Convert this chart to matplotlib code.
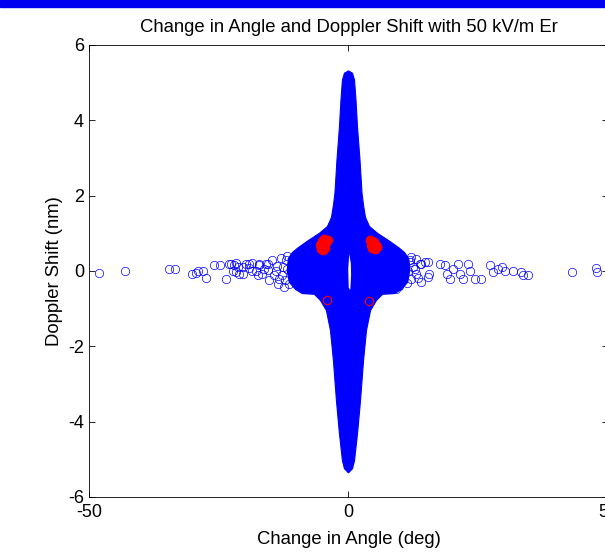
import matplotlib
matplotlib.use("Agg")
import matplotlib.pyplot as plt
from matplotlib.patches import Rectangle

plt.rcParams['font.family'] = ['Liberation Sans', 'DejaVu Sans']
plt.rcParams['axes.unicode_minus'] = False

# Outline of the solid part of the cloud, right half, top to bottom (deg, nm)
core_angle = [0.0, 0.77, 1.16, 1.45, 1.74, 2.22, 2.61, 2.90, 3.28, 4.05,
              5.60, 7.92, 9.85, 10.8, 11.6, 11.8, 11.4, 10.2, 8.9, 6.56, 5.41,
              4.25, 3.47, 2.90, 2.32, 1.74, 1.16, 0.77, 0.0]
core_doppler = [5.31, 5.25, 5.07, 4.53, 3.82, 2.94, 2.06, 1.74, 1.42, 1.18,
                1.00, 0.79, 0.60, 0.49, 0.33, 0.0, -0.30, -0.49, -0.60, -0.62, -0.78,
                -1.05, -1.58, -2.38, -3.44, -4.32, -5.04, -5.25, -5.36]

# Empty slit in the middle of the cloud
gap_angle = [0.15, 0.45, 0.50, 0.35, 0.05, -0.05]
gap_doppler = [0.45, 0.20, -0.10, -0.50, -0.45, 0.05]

# Scattered points along the angle axis
tail_angle = [-48.1, -43.1, -34.6, -33.4, -30.1, -29.3, -28.9, -28.0, -27.5,
              -25.9, -24.8, -23.6, -23.0, -22.0, -21.7, -21.2, -20.4, -19.7,
              -19.1, -18.5, -17.8, -17.2, -16.7, -15.9, -15.6, -22.6, -21.7,
              -22.3, -21.0, -20.4, -19.1, -18.5, -17.5, -17.2, -16.2, -15.6,
              -15.3, -14.7, -14.0, -13.3, -12.7, -12.0, -13.6, -11.4, -12.4,
              -12.9, -13.8, -12.2, -11.8, -14.4, -13.0, -11.9,
              9.8, 10.8, 11.8, 12.4, 11.5, 10.5, 12.1, 13.1, 13.7, 14.7,
              14.0, 15.3, 9.8, 9.2, 12.8, 11.2, 13.4, 12.0,
              11.8, 13.1, 14.0, 15.3, 15.6, 17.6, 18.5, 18.9, 19.5, 20.1,
              21.1, 21.4, 22.1, 23.0, 23.4, 24.3, 25.6, 27.2, 27.9, 28.8,
              29.5, 30.1, 31.7, 33.3, 33.7, 34.6, 43.0, 47.6, 47.9]
tail_doppler = [-0.05, -0.01, 0.06, 0.06, -0.09, -0.05, 0.01, 0.00, -0.19,
                0.15, 0.15, -0.21, 0.19, 0.15, -0.03, 0.10, -0.07, 0.19,
                0.09, 0.21, 0.01, 0.15, -0.07, 0.19, 0.03, 0.19, 0.21,
                0.01, -0.07, 0.10, 0.19, 0.01, -0.12, 0.19, 0.06, 0.19,
                -0.25, 0.28, 0.01, -0.21, 0.10, 0.28, -0.34, -0.34, -0.43,
                -0.10, 0.12, -0.25, 0.40, -0.12, 0.34, 0.05,
                0.37, 0.19, 0.28, 0.10, 0.01, -0.16, -0.21, -0.07, 0.19, 0.23,
                -0.30, -0.16, -0.39, -0.47, 0.05, -0.32, -0.18, 0.38,
                0.23, 0.32, 0.19, 0.23, -0.07, 0.19, 0.15, -0.07, -0.21, 0.06,
                0.19, -0.07, -0.21, 0.19, 0.01, -0.21, -0.21, 0.15, -0.03, 0.06,
                0.10, 0.01, -0.01, -0.03, -0.12, -0.10, -0.03, 0.09, -0.03]

# Red points
red_cluster_angle = [-5.4, -5.1, -4.7, -4.3, -4.5, -4.9, -5.3, -4.1, -4.8, -5.0,
                     4.2, 4.6, 5.0, 5.4, 5.1, 4.5, 4.3, 4.8, 5.3, 4.9]
red_cluster_doppler = [0.70, 0.80, 0.84, 0.76, 0.62, 0.56, 0.58, 0.82, 0.70, 0.66,
                       0.82, 0.80, 0.74, 0.64, 0.58, 0.60, 0.70, 0.66, 0.70, 0.76]
red_ring_angle = [-4.2, 3.9, -4.0]
red_ring_doppler = [-0.78, -0.81, 0.83]

fig = plt.figure(figsize=(6.05, 5.54), dpi=100)
fig.patches.append(Rectangle((0, 1 - 7 / 554), 1, 7 / 554, transform=fig.transFigure,
                             color='#0000f0', zorder=0))
ax = fig.add_axes([0.147, 0.1029, 0.858, 0.816])

poly_x = core_angle + [-a for a in reversed(core_angle)]
poly_y = core_doppler + list(reversed(core_doppler))
ax.fill(poly_x, poly_y, color='b', lw=0.8)
ax.plot(tail_angle, tail_doppler, 'o', mfc='none', mec='b', ms=6, mew=0.5)
ax.fill(gap_angle, gap_doppler, color='white', lw=0)
ax.plot(red_cluster_angle, red_cluster_doppler, 'o', color='r', ms=6)
ax.plot(red_ring_angle, red_ring_doppler, 'o', mfc='none', mec='r', ms=6, mew=0.8)

ax.set_xlim(-50, 50)
ax.set_ylim(-6, 6)
ax.set_xticks([-50, 0, 50])
ax.set_yticks([-6, -4, -2, 0, 2, 4, 6])
ax.tick_params(direction='in', top=True, right=True, length=4, labelsize=13, width=0.6)
ax.tick_params(axis='x', pad=5)
for s in ax.spines.values():
    s.set_linewidth(0.6)
ax.set_xlabel('Change in Angle (deg)', fontsize=13.3, labelpad=7)
ax.set_ylabel('Doppler Shift (nm)', fontsize=13.3)
ax.set_title('Change in Angle and Doppler Shift with 50 kV/m Er', fontsize=13.3, pad=9)

fig.savefig('out.png', dpi=100)
